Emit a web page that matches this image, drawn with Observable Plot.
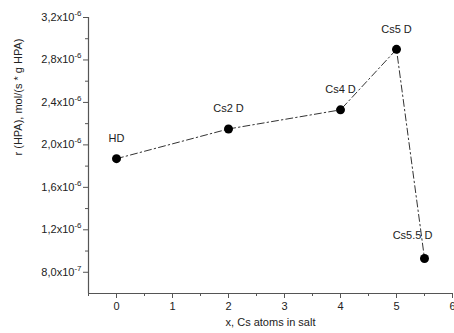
<!DOCTYPE html>
<html>
<head>
<meta charset="utf-8">
<script src="https://cdn.jsdelivr.net/npm/d3@7"></script>
<script src="https://cdn.jsdelivr.net/npm/@observablehq/plot@0.6"></script>
<style>
  html, body { margin: 0; padding: 0; background: #fff; }
  #chart svg { font-family: Arial, "Liberation Sans", sans-serif; }
</style>
</head>
<body>
<div id="chart"></div>
<script>
const labels = ["HD", "Cs2 D", "Cs4 D", "Cs5 D", "Cs5.5 D"];
const xValues = [0, 2, 4, 5, 5.5];
const rValues = [1.87e-6, 2.15e-6, 2.33e-6, 2.90e-6, 0.93e-6];
const xTicks = [0, 1, 2, 3, 4, 5, 6];
const xMinorTicks = [-0.5, 0.5, 1.5, 2.5, 3.5, 4.5, 5.5];
const yTicks = [0.8e-6, 1.2e-6, 1.6e-6, 2.0e-6, 2.4e-6, 2.8e-6, 3.2e-6];
const yMinorTicks = [1.0e-6, 1.4e-6, 1.8e-6, 2.2e-6, 2.6e-6, 3.0e-6];

const data = labels.map((l, i) => ({label: l, x: xValues[i], r: rValues[i]}));

function fmtY(v) {
  const e = v < 1e-6 - 1e-12 ? -7 : -6;
  const m = (v / Math.pow(10, e)).toFixed(1).replace(".", ",");
  return m + "x10^" + e;
}

const axisColor = "#555";
const chart = Plot.plot({
  width: 454,
  height: 333,
  marginLeft: 88,
  marginRight: 2,
  marginTop: 17,
  marginBottom: 40,
  style: {fontSize: "11px", color: "#222", background: "#fff"},
  x: {domain: [-0.5, 6]},
  y: {domain: [0.6e-6, 3.2e-6]},
  marks: [
    Plot.ruleX([-0.5], {stroke: axisColor, strokeWidth: 1.2}),
    Plot.ruleY([0.6e-6], {stroke: axisColor, strokeWidth: 1.2}),
    Plot.axisX(xTicks, {tickSize: 5, tickPadding: 4, stroke: axisColor, label: null, fill: "#222"}),
    Plot.axisX(xMinorTicks, {tickSize: 3, text: null, stroke: axisColor, label: null}),
    Plot.axisY(yTicks, {tickSize: 5, tickPadding: 2, stroke: axisColor, tickFormat: fmtY, label: null, fill: "#222"}),
    Plot.axisY(yMinorTicks, {tickSize: 3, text: null, stroke: axisColor, label: null}),
    Plot.text(["x, Cs atoms in salt"], {frameAnchor: "bottom", dy: 32, fontSize: 11, fill: "#222"}),
    Plot.text(["r (HPA), mol/(s * g HPA)"], {frameAnchor: "left", dx: -70, rotate: -90, fontSize: 11, fill: "#222"}),
    Plot.line(data, {x: "x", y: "r", stroke: "#333", strokeWidth: 1, strokeDasharray: "7,3,1.5,3"}),
    Plot.dot(data, {x: "x", y: "r", r: 4.5, fill: "#000", stroke: "none"}),
    Plot.text(data.filter(d => d.label !== "Cs5.5 D"), {x: "x", y: "r", text: "label", dy: -20, fontSize: 11, fill: "#222"}),
    Plot.text(data.filter(d => d.label === "Cs5.5 D"), {x: "x", y: "r", text: "label", dy: -23, dx: -12, fontSize: 11, fill: "#222"})
  ]
});

// Render exponents as superscripts
chart.querySelectorAll('[aria-label="y-axis tick label"] text').forEach(t => {
  const s = t.textContent;
  const idx = s.indexOf("^");
  if (idx < 0) return;
  const base = s.slice(0, idx), exp = s.slice(idx + 1);
  t.textContent = "";
  const a = document.createElementNS("http://www.w3.org/2000/svg", "tspan");
  a.textContent = base;
  const b = document.createElementNS("http://www.w3.org/2000/svg", "tspan");
  b.textContent = exp;
  b.setAttribute("dy", "-5");
  b.setAttribute("font-size", "8px");
  t.appendChild(a);
  t.appendChild(b);
});

document.getElementById("chart").appendChild(chart);
</script>
</body>
</html>
